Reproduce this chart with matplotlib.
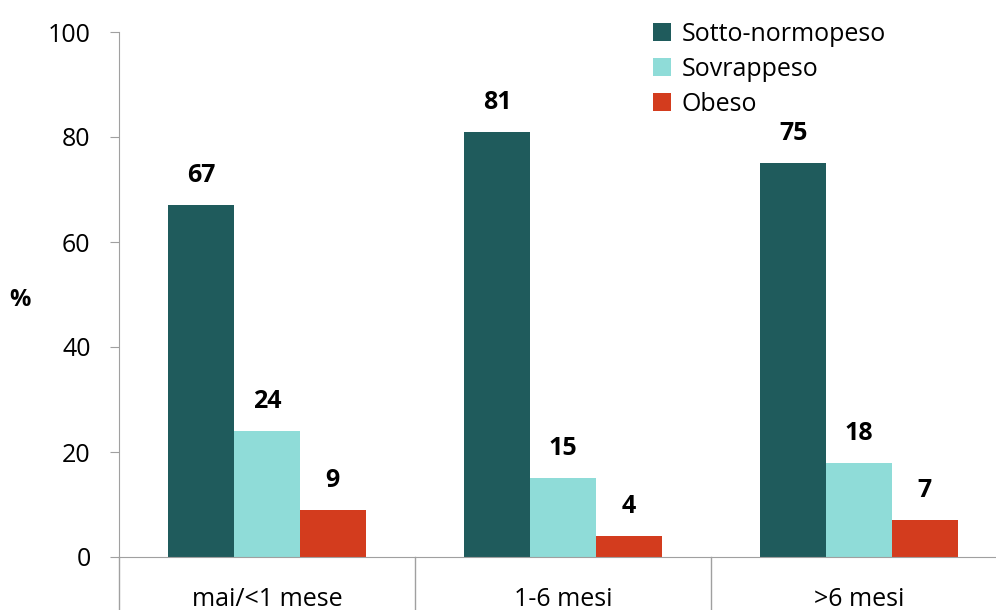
import numpy as np
import matplotlib
matplotlib.use("Agg")
import matplotlib.pyplot as plt
import matplotlib.transforms as mtransforms

plt.rcParams['font.family'] = ['Open Sans', 'DejaVu Sans']

categorie = ["mai/<1 mese", "1-6 mesi", ">6 mesi"]
serie = ["Sotto-normopeso", "Sovrappeso", "Obeso"]
sotto_normopeso = [67, 81, 75]
sovrappeso = [24, 15, 18]
obeso = [9, 4, 7]
colori = ["#1F5B5C", "#8FDCD8", "#D33C1E"]

fig = plt.figure(figsize=(9.96, 6.10), dpi=100)
# l'asse esce a destra dall'immagine, come nel riferimento
ax = fig.add_axes([119 / 996, 53 / 610, 888 / 996, 525 / 610])

x = np.arange(len(categorie))
w = 0.222
valori = [sotto_normopeso, sovrappeso, obeso]
for i, (nome, vals) in enumerate(zip(serie, valori)):
    bars = ax.bar(x + (i - 1) * w, vals, w, color=colori[i], label=nome)
    for b, v in zip(bars, vals):
        ax.text(b.get_x() + b.get_width() / 2, v + 5.6, str(v),
                ha="center", va="center", fontsize=18, fontweight="bold")

ax.set_xlim(-0.5, 2.5)
ax.set_ylim(0, 100)
ax.set_yticks(range(0, 101, 20))
ax.tick_params(axis="y", labelsize=18, length=6.5, color="#A0A0A0", pad=14)
ax.set_xticks([])
for s in ["top", "right"]:
    ax.spines[s].set_visible(False)
for s in ["left", "bottom"]:
    ax.spines[s].set_color("#A0A0A0")

# separatori di categoria sotto l'asse
tr = mtransforms.blended_transform_factory(ax.transData, ax.transAxes)
for xs in [-0.5, 0.5, 1.5]:
    ax.plot([xs, xs], [0, -0.12], transform=tr, color="#A0A0A0", lw=1, clip_on=False)
for xi, c in zip(x, categorie):
    ax.text(xi, -0.08, c, transform=tr, ha="center", va="center", fontsize=18)

fig.text(20 / 996, 1 - 300 / 610, "%", ha="center", va="center", fontsize=17, fontweight="bold")

ax.legend(loc="upper left", bbox_to_anchor=(0.601, 1.019), frameon=False, fontsize=18,
          borderaxespad=0, borderpad=0,
          handlelength=0.75, handleheight=0.75, handletextpad=0.4, labelspacing=0.4)

fig.savefig("out.png", dpi=100)
